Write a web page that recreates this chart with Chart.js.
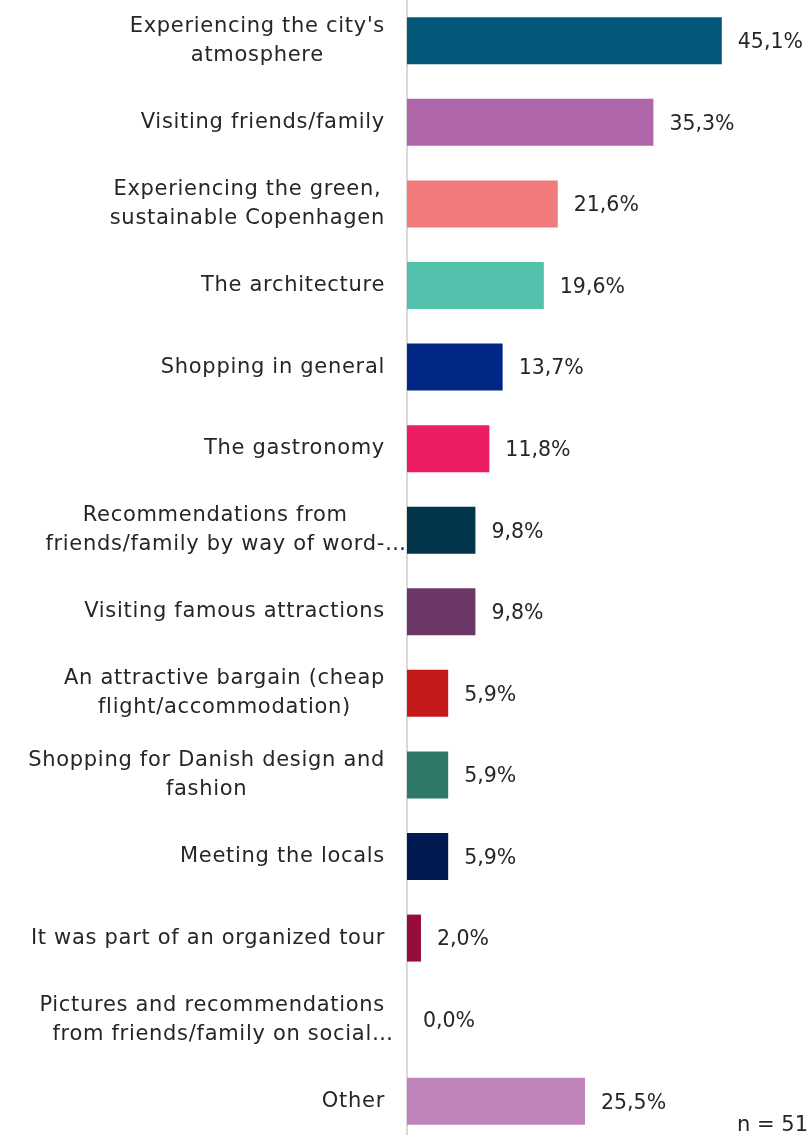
<!DOCTYPE html>
<html>
<head>
<meta charset="utf-8">
<script src="https://cdn.jsdelivr.net/npm/chart.js@4/dist/chart.umd.min.js"></script>
<style>
  html, body { margin: 0; padding: 0; background: #fff; overflow: hidden; }
  #wrap { position: relative; width: 810px; height: 1142px; }
</style>
</head>
<body>
<div id="wrap"><canvas id="motivesChart"></canvas></div>
<script>
// Reasons for visiting, share of respondents (%)
const categories = [
  ["Experiencing the city's", "atmosphere"],
  ["Visiting friends/family"],
  ["Experiencing the green,", "sustainable Copenhagen"],
  ["The architecture"],
  ["Shopping in general"],
  ["The gastronomy"],
  ["Recommendations from", "friends/family by way of word-…"],
  ["Visiting famous attractions"],
  ["An attractive bargain (cheap", "flight/accommodation)"],
  ["Shopping for Danish design and", "fashion"],
  ["Meeting the locals"],
  ["It was part of an organized tour"],
  ["Pictures and recommendations", "from friends/family on social…"],
  ["Other"]
];
const values = [45.1, 35.3, 21.6, 19.6, 13.7, 11.8, 9.8, 9.8, 5.9, 5.9, 5.9, 2.0, 0.0, 25.5];
const barColors = [
  "#03587A", "#AF65A9", "#F07B7A", "#53C0AC", "#012786", "#EC1D64", "#02354A",
  "#6C3767", "#C41A1B", "#2E7968", "#021A52", "#960D3D", "#8A8A8A", "#BF84BC"
];
const sampleNote = "n = 51";

const FONT = "'DejaVu Sans', sans-serif";
const TEXT_COLOR = "#262626";

function fmtPct(v) {
  return v.toFixed(1).replace(".", ",") + "%";
}

// draws category names (centred lines, block right-aligned), value labels and the n note
const labelPlugin = {
  id: "labelPlugin",
  afterDatasetsDraw(chart) {
    const ctx = chart.ctx;
    const meta = chart.getDatasetMeta(0);
    const lineH = 29;
    const rightEdge = 385;
    ctx.save();
    ctx.fillStyle = TEXT_COLOR;
    ctx.textBaseline = "middle";

    meta.data.forEach((bar, i) => {
      // category label
      ctx.font = "21px " + FONT;
      ctx.letterSpacing = "0.7px";
      const lines = categories[i];
      const widths = lines.map(l => ctx.measureText(l.replace(/…$/, "")).width);
      const blockW = Math.max(...widths);
      const cx = rightEdge - blockW / 2;
      const y0 = bar.y - (lines.length - 1) * lineH / 2;
      lines.forEach((l, j) => {
        ctx.textAlign = "left";
        ctx.fillText(l, cx - widths[j] / 2, y0 + j * lineH);
      });

      // value label
      ctx.font = "20.5px " + FONT;
      ctx.letterSpacing = "0px";
      ctx.textAlign = "left";
      ctx.fillText(fmtPct(values[i]), bar.x + 16, bar.y + 2);
    });

    ctx.font = "21px " + FONT;
    ctx.textAlign = "right";
    ctx.textBaseline = "alphabetic";
    ctx.fillText(sampleNote, 808, 1131);
    ctx.restore();
  }
};

window.onload = function () {
  const el = document.getElementById("motivesChart");
  new Chart(el, {
    type: "bar",
    data: {
      labels: categories,
      datasets: [{
        data: values,
        backgroundColor: barColors,
        borderWidth: 0,
        categoryPercentage: 1,
        barPercentage: 0.576
      }]
    },
    options: {
      indexAxis: "y",
      responsive: true,
      maintainAspectRatio: false,
      animation: false,
      layout: { padding: { left: 407, right: 54, top: 0, bottom: 0 } },
      plugins: {
        legend: { display: false },
        tooltip: { enabled: false }
      },
      scales: {
        x: { display: false, min: 0, max: 50 },
        y: {
          ticks: { display: false },
          grid: { display: false, drawTicks: false },
          border: { display: true, color: "#D9D9D9", width: 2 }
        }
      }
    },
    plugins: [labelPlugin]
  });
};
</script>
</body>
</html>
